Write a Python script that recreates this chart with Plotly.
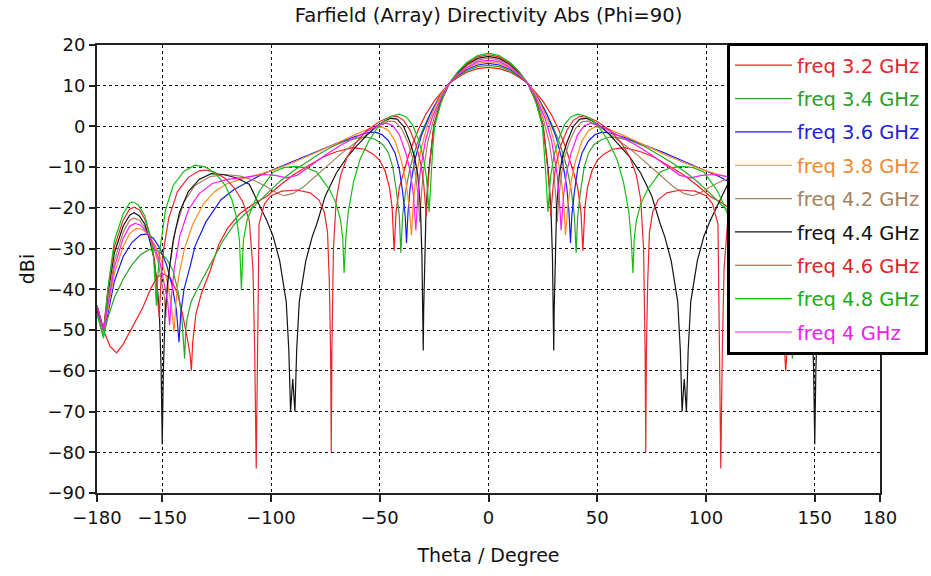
import plotly.graph_objects as go

# ---- data (theta <= 0 half; pattern mirrored about theta = 0) ----
LABELS = ["freq 3.2 GHz", "freq 3.4 GHz", "freq 3.6 GHz", "freq 3.8 GHz", "freq 4.2 GHz",
          "freq 4.4 GHz", "freq 4.6 GHz", "freq 4.8 GHz", "freq 4 GHz"]
COLORS = ["#ff1a1a", "#2aa52a", "#1a1aff", "#ff8a1f", "#a8805c",
          "#141414", "#e8282c", "#12c012", "#ff1aff"]
TEXT_COLORS = ["#e3262b", "#2b9e2b", "#2222d8", "#ef8a30", "#a58360",
               "#111111", "#e02528", "#1aab1a", "#f51af5"]

TH_32 = [-180, -177, -174, -171, -168, -165, -162, -159, -155, -152, -149, -146, -143, -140.5, -138.5, -137.2,
         -136.6, -136, -134.5, -132, -128, -124, -120, -114.5, -108, -102, -96, -90, -84, -76, -70, -62.5, -57,
         -53, -50, -47.5, -45.5, -44.3, -43.4, -42.5, -41, -39, -37, -35, -32, -29, -25, -21, -18, -14, -10, -5, 0]
DB_32 = [-45, -50, -54, -55.6, -53.5, -50.5, -47.5, -44.5, -39.5, -36.8, -36.2, -37.5, -41, -46.5, -52, -56,
         -60, -53, -46, -41, -35.5, -29, -25, -21.5, -19, -17.2, -14.5, -12, -10, -7.5, -6.2, -5.2, -5.6,
         -6.8, -8.3, -11, -15, -20, -30.5, -21, -15, -11, -7.5, -4.5, -0.5, 2.8, 6.2, 8.8, 10.6, 12.1, 13.3, 14.2, 14.5]

TH_34 = [-180, -177, -175, -172, -168, -164, -160, -156, -152, -148, -145, -142.5, -141, -140, -139.7, -139.2,
         -138.5, -136.7, -133, -127.5, -122, -116.8, -112, -107.6, -102, -96, -90, -84, -78, -72, -66, -60, -56,
         -52, -48.5, -46, -44, -42.3, -41, -40.3, -39.5, -38, -36, -33, -30, -26, -22, -18, -14, -10, -5, 0]
DB_34 = [-46, -51.5, -47, -42, -37.5, -34, -31.5, -30.2, -30.5, -32.5, -35.5, -41, -47, -54, -57, -50,
         -47, -43, -39, -33.5, -28, -24, -21.5, -19.5, -16.5, -13.5, -11, -8.8, -6.8, -5, -3.6, -2.8, -2.6,
         -3.2, -4.5, -6.5, -10, -16, -22, -31, -22, -15.5, -10, -4.5, -0.5, 4, 7.8, 10.6, 12.3, 13.6, 14.7, 15.0]

TH_36 = [-180, -177, -175, -172, -168, -164, -160, -157, -154, -151, -148, -145.5, -143.5, -142.3, -141.5, -140,
         -137, -135, -130, -123, -117, -112, -106, -100, -90, -80, -70, -62, -56, -52, -49, -46, -43, -41, -39.5,
         -38.3, -37.7, -37, -36, -34, -31, -27, -23, -20, -18, -14, -10, -5, 0]
DB_36 = [-45, -50, -46, -38, -32, -28.5, -26.6, -26.4, -27.5, -30, -34, -39, -45, -53, -46, -40,
         -34, -29.5, -23.5, -18, -15.5, -14, -12.3, -10.8, -8.6, -6.3, -4.2, -2.6, -1.6, -1.4, -2, -3.5, -6.5, -10.5, -16,
         -22, -28.6, -21, -15, -8.5, -2.5, 2.8, 6.8, 9.3, 10.6, 12.5, 14.0, 15.1, 15.5]

TH_38 = [-180, -177, -175, -172, -168, -165, -162, -159, -156, -153, -150, -147.5, -145.8, -144.6, -143.8, -142.5,
         -140, -136, -131, -126, -120, -113, -106, -100, -90, -80, -70, -62, -56, -52, -49, -46, -43, -40, -38,
         -36.5, -35.4, -34.6, -33.5, -31, -28, -24, -21, -18, -14, -10, -5, 0]
DB_38 = [-44, -50, -45, -36, -29.5, -26.3, -25, -25.3, -26.8, -29.5, -33.5, -38.5, -44, -50.4, -44, -37,
         -30.5, -24, -19, -16, -14, -12.8, -11.8, -10.9, -8.9, -6.6, -4.2, -2.2, -0.8, -0.2, -0.1, -1, -3.5, -8.5, -13.5,
         -19.5, -26.7, -19, -13, -5.5, 0.5, 5.5, 8.6, 10.6, 12.7, 14.3, 15.5, 15.9]

TH_40 = [-180, -177, -175, -172, -168, -165, -162.5, -160, -157, -154, -151, -149, -147.5, -146.6, -145.8, -144.5,
         -142, -138, -133, -127, -120, -112, -104, -98, -93, -88, -82, -75, -68, -60, -54, -50, -47, -44, -41, -38,
         -36, -34.5, -33.4, -32.6, -31.5, -29, -26, -22, -18, -14, -10, -5, 0]
DB_40 = [-44, -50, -44, -34.5, -27.5, -24.5, -23.8, -24.2, -26, -29, -33.5, -38.5, -43, -48.8, -42, -35,
         -27, -20.5, -16.5, -14, -13, -12.5, -11.8, -12, -12.6, -12, -9.6, -7, -4.6, -2.4, -0.6, 0.4, 0.8, 0.2, -2, -6.5,
         -11, -17, -25.5, -18, -11.5, -3.5, 2, 7, 10.6, 12.9, 14.5, 15.9, 16.3]

TH_42 = [-180, -177, -175, -172, -168, -165, -163, -160.5, -158, -155, -152, -150, -149, -148.4, -147.8, -146.5,
         -144, -140, -135, -128, -121, -114, -108, -102, -97, -94, -90, -85, -80, -75, -68, -60, -54, -50, -46, -43,
         -40, -37, -35, -33.5, -32.4, -31.6, -30.9, -30, -28, -25, -21.5, -18, -14, -10, -5, 0]
DB_42 = [-44, -50, -43, -33, -26, -23, -22.5, -23, -24.8, -28, -33, -38.5, -42, -47, -41, -34,
         -25.5, -18.5, -14.5, -12.3, -11.8, -12.2, -13.2, -14.8, -16.4, -17, -16.5, -14.8, -12.5, -10, -6.8, -3.5, -1.2,
         0.3, 1.3, 1.2, -0.5, -4, -7.5, -12, -17, -23.5, -17, -11.5, -4, 2.2, 7.2, 10.6, 13.1, 14.9, 16.3, 16.8]

TH_44 = [-180, -177, -175, -172, -168, -165, -163, -160.5, -158, -156, -154, -152.5, -151.3, -150.5, -150, -149.5,
         -148.7, -147.5, -145, -142, -138, -133, -127.5, -122, -116, -110, -105, -102, -99, -96, -93, -91.8, -91, -90,
         -89, -88.2, -87, -84, -81, -79, -75, -70, -65, -61, -56, -52, -48, -45, -42, -39, -36, -34, -32.5, -31.3,
         -30.6, -30.2, -30, -29.8, -29.4, -28.7, -27.5, -25, -22, -18, -14, -10, -5, 0]
DB_44 = [-44, -50, -41, -31, -24.5, -21.8, -21.2, -22, -24, -27.5, -32, -38, -46, -60, -78, -60,
         -46, -38, -28, -21, -16, -13, -11.6, -11.8, -12.6, -14.2, -19.7, -23, -27, -33, -43, -55, -70, -62,
         -70, -55, -43, -33, -27, -24, -17, -11.5, -7.5, -5, -2.2, -0.1, 1.3, 2, 1.8, 0, -4, -7.5, -12, -20,
         -32, -45, -55, -45, -32, -20, -11, 0.5, 6.0, 10.6, 13.2, 15.2, 16.7, 17.2]

TH_46 = [-180, -177, -175, -172, -168, -165, -163, -160.5, -158, -155.5, -153.5, -152.3, -151.4, -150.6, -149.3, -147,
         -143, -138, -133, -130, -126, -121, -117, -113, -110, -108.3, -107.5, -106.8, -106.2, -105.5, -103, -100,
         -95, -88, -82, -78, -75.5, -74, -73.2, -72.6, -72.3, -72, -71.3, -70, -68, -65, -61, -56, -50, -46, -42,
         -39, -36, -33, -31, -29.8, -28.6, -27.8, -26.8, -25.2, -22, -18, -14, -10, -5, 0]
DB_46 = [-44, -50, -40, -29.5, -23, -20.3, -19.8, -20.5, -22.8, -27, -33, -40, -47, -38, -30, -22.5,
         -16, -12.5, -10.9, -10.7, -11.2, -12.8, -15, -18.5, -23, -35, -55, -84, -55, -24, -19, -17,
         -15.9, -15.6, -16.3, -18, -21, -26, -38, -55, -80, -55, -30, -18, -12, -7.5, -4, -1, 1.2, 2.2, 2.5,
         1.5, -1, -5, -9.5, -14, -22, -14, -8, 0, 5.8, 10.6, 13.4, 15.4, 17.1, 17.6]

TH_48 = [-180, -177, -175, -172, -168, -165, -163.5, -161, -158, -155.5, -154, -153.2, -152.7, -152.2, -151, -148.5,
         -145, -140, -135, -130, -125, -121, -118, -116, -114.5, -113.6, -112.7, -111, -108, -105, -99, -94, -89,
         -84, -79, -73, -70, -68, -67, -66.4, -65.6, -64.5, -62, -59, -55, -50, -45, -41, -38, -35, -32, -30,
         -28.5, -27.3, -26.5, -25.7, -24.8, -22, -20, -18, -14, -10, -5, 0]
DB_48 = [-46, -52, -40, -28, -21.5, -18.8, -18.5, -19.3, -22, -27, -32, -38, -44, -38, -30, -20.5,
         -14.5, -11, -9.5, -10, -11.8, -14.5, -18, -22, -28, -40, -28, -23, -19, -15.6, -11.2, -10.1, -9.8,
         -10.1, -11.2, -15.6, -19, -23, -27.5, -36, -27.5, -21, -13.5, -8, -3.5, 0.5, 2.5, 3, 2.4, 0.5, -3.5, -7.5,
         -12.5, -21, -13, -6, 0, 5.5, 8.5, 10.6, 13.5, 15.7, 17.4, 18.0]

SERIES = [(TH_32, DB_32), (TH_34, DB_34), (TH_36, DB_36), (TH_38, DB_38), (TH_42, DB_42),
          (TH_44, DB_44), (TH_46, DB_46), (TH_48, DB_48), (TH_40, DB_40)]

X_TICKS = [-180, -150, -100, -50, 0, 50, 100, 150, 180]
Y_TICKS = list(range(-90, 21, 10))


def mirror(th, db):
    # the Phi=90 cut is symmetric about theta = 0: reuse the read half for the positive side
    th_full = list(th) + [-t for t in reversed(th[:-1])]
    db_full = list(db) + list(reversed(db[:-1]))
    return th_full, db_full


FONT = "DejaVu Sans"
fig = go.Figure()
for i, ((th, db), name, col, tcol) in enumerate(zip(SERIES, LABELS, COLORS, TEXT_COLORS)):
    x, y = mirror(th, db)
    fig.add_trace(go.Scatter(x=x, y=y, mode="lines",
                             name=f'<span style="color:{tcol}">{name}</span>',
                             legendgroup=f"g{i}",
                             line=dict(color=col, width=1.2)))

axis_common = dict(showgrid=True, gridcolor="#111111", griddash="dot", gridwidth=1.4,
                   zeroline=False, showline=True, linecolor="#222222", linewidth=2, mirror=True,
                   ticks="outside", tickcolor="#222222", tickwidth=2,
                   tickfont=dict(family=FONT, size=18, color="#111111"))

fig.update_layout(
    width=931, height=576,
    margin=dict(l=97, r=51, t=45, b=83, autoexpand=False),
    paper_bgcolor="white", plot_bgcolor="white",
    title=dict(text="Farfield (Array) Directivity Abs (Phi=90)", x=0.5, xref="paper",
               y=1 - 15 / 576, yref="container", yanchor="middle", xanchor="center",
               font=dict(family=FONT, size=19.6, color="#111111")),
    xaxis=dict(range=[-180, 180], tickmode="array", tickvals=X_TICKS, ticklen=7,
               title=dict(text="Theta / Degree", font=dict(family=FONT, size=19, color="#111111"), standoff=22),
               **axis_common),
    yaxis=dict(range=[-90, 20], tickmode="array", tickvals=Y_TICKS, ticklen=6,
               title=dict(text="dBi", font=dict(family=FONT, size=19, color="#111111"), standoff=8),
               **axis_common),
    legend=dict(x=(727 - 97) / 783, xanchor="left", y=1 + 2 / 448, yref="paper", yanchor="top",
                bgcolor="white", bordercolor="#000000", borderwidth=3, maxheight=420,
                font=dict(family=FONT, size=19.5), tracegroupgap=5, itemwidth=57,
                traceorder="grouped"),
    showlegend=True,
)

fig.write_html("out.html")
